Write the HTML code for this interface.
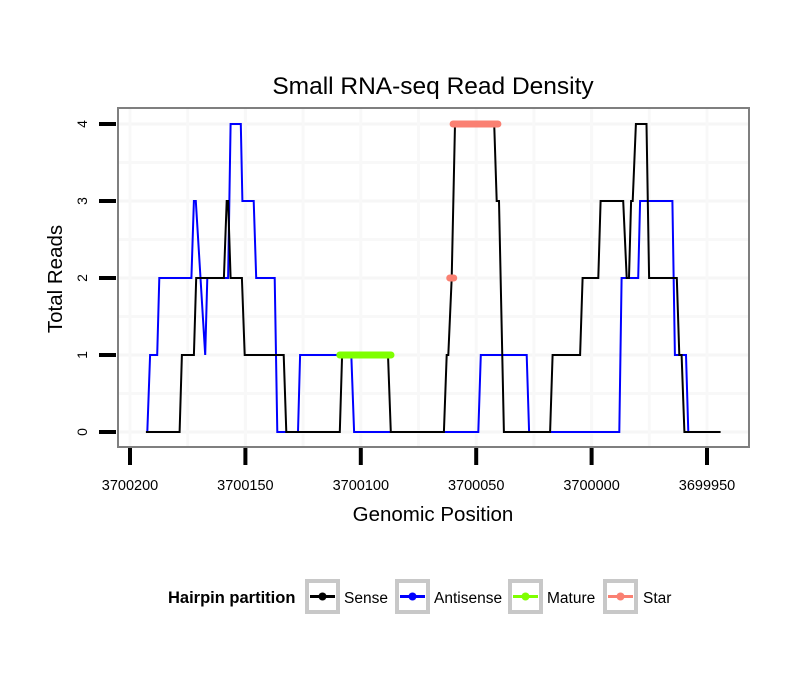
<!DOCTYPE html>
<html><head><meta charset="utf-8"><style>
body{margin:0;background:#fff;font-family:"Liberation Sans",sans-serif}
svg{display:block}
</style></head><body>
<svg id="chart" width="810" height="690" xmlns="http://www.w3.org/2000/svg"></svg>
<script>
const xTicks=[3700200,3700150,3700100,3700050,3700000,3699950];
const xTickLabels=["3700200","3700150","3700100","3700050","3700000","3699950"];
const yTicks=[0,1,2,3,4];
const yTickLabels=["0","1","2","3","4"];
const antisensePos=[3700192.5,3700191.3,3700188.2,3700187.3,3700173.4,3700172.3,3700171.5,3700167.4,3700166.5,3700157.5,3700156.4,3700152.0,3700151.3,3700146.4,3700145.3,3700137.3,3700136.2,3700127.2,3700126.3,3700104.1,3700102.9,3700049.1,3700048.0,3700028.1,3700027.1,3699988.0,3699987.0,3699979.8,3699979.0,3699965.0,3699963.9,3699959.1,3699958.1];
const antisenseVal=[0,1,1,2,2,3,3,1,2,2,4,4,3,3,2,2,0,0,1,1,0,0,1,1,0,0,2,2,3,3,1,1,0];
const sensePos=[3700193.1,3700178.5,3700177.5,3700172.3,3700171.3,3700159.3,3700158.1,3700157.5,3700156.4,3700151.5,3700150.3,3700133.4,3700132.3,3700109.1,3700108.1,3700088.2,3700087.0,3700064.0,3700062.8,3700062.1,3700060.6,3700059.2,3700042.2,3700041.1,3700040.1,3700038.0,3700018.0,3700016.9,3700005.0,3700003.9,3699997.1,3699996.1,3699986.3,3699984.8,3699983.8,3699982.9,3699982.2,3699980.8,3699976.2,3699975.1,3699963.1,3699962.0,3699961.0,3699959.8,3699944.1];
const senseVal=[0,0,1,1,2,2,3,3,2,2,1,1,0,0,1,1,0,0,1,1,2,4,4,3,3,0,0,1,1,2,2,3,3,2,2,3,3,4,4,2,2,1,1,0,0];
const maturePos=[3700109.1,3700086.9];
const matureVal=[1,1];
const starPos=[3700060.0,3700040.6];
const starVal=[4,4];
const starPointPos=[3700060.6];
const starPointVal=[2];

const NS="http://www.w3.org/2000/svg";
const svg=document.getElementById('chart');
const L=118,R=749,T=108,B=447;
const xs=v=>130+(3700200-v)*2.308;
const ys=v=>432-v*77;
function mk(tag,attrs,parent){const e=document.createElementNS(NS,tag);for(const k in attrs)e.setAttribute(k,attrs[k]);(parent||svg).appendChild(e);return e;}
function txt(s,attrs){const e=mk('text',attrs);e.textContent=s;return e;}

const plot=mk('rect',{x:L,y:T,width:R-L,height:B-T,fill:'#fff'});


for(let i=0;i<yTicks.length;i++){
  const g=mk('line',{x1:L,x2:R,y1:ys(yTicks[i]),y2:ys(yTicks[i]),stroke:'#f6f6f6','stroke-width':3});
  
  
  if(i<yTicks.length-1){const m=mk('line',{x1:L,x2:R,y1:ys(yTicks[i]+0.5),y2:ys(yTicks[i]+0.5),stroke:'#f8f8f8','stroke-width':3});
  
  }
}
for(let i=0;i<xTicks.length;i++){
  const g=mk('line',{x1:xs(xTicks[i]),x2:xs(xTicks[i]),y1:T,y2:B,stroke:'#f8f8f8','stroke-width':3});
  
  
  if(i<xTicks.length-1){const m=mk('line',{x1:xs(xTicks[i]-25),x2:xs(xTicks[i]-25),y1:T,y2:B,stroke:'#f8f8f8','stroke-width':3});
  
  }
}
function series(pos,val,color,w,name,cap){
  const d=pos.map((p,i)=>(i?'L':'M')+xs(p).toFixed(1)+','+ys(val[i]).toFixed(1)).join('');
  const e=mk('path',{d:d,fill:'none',stroke:color,'stroke-width':w,'stroke-linejoin':'miter','stroke-linecap':cap||'butt'});
  
  
}
series(antisensePos,antisenseVal,'#0000ff',2,'antisense-line');
series(sensePos,senseVal,'#000000',2,'sense-line');
series(maturePos,matureVal,'#7fff00',7,'mature-line','round');
series(starPos,starVal,'#fa8072',7,'star-line','round');
for(let i=0;i<starPointPos.length;i++){
  const c=mk('line',{x1:xs(starPointPos[i])-2,x2:xs(starPointPos[i])+2,y1:ys(starPointVal[i]),y2:ys(starPointVal[i]),stroke:'#fa8072','stroke-width':7,'stroke-linecap':'round'});
  
  
}
const border=mk('rect',{x:L,y:T,width:R-L,height:B-T,fill:'none',stroke:'#7f7f7f','stroke-width':2});


for(let i=0;i<yTicks.length;i++){
  const t=mk('line',{x1:99,x2:116,y1:ys(yTicks[i]),y2:ys(yTicks[i]),stroke:'#000','stroke-width':4});
  
  
  const y=ys(yTicks[i]);
  const l=txt(yTickLabels[i],{x:87,y:y,'font-size':14,'text-anchor':'middle',transform:`rotate(-90 87 ${y})`,fill:'#000'});
  
  
}
for(let i=0;i<xTicks.length;i++){
  const x=xs(xTicks[i]);
  const t=mk('line',{x1:x,x2:x,y1:448,y2:465,stroke:'#000','stroke-width':4});
  
  
  const l=txt(xTickLabels[i],{x:x,y:490,'font-size':14.5,'text-anchor':'middle',fill:'#000'});
  
  
}
</script>
<svg style="position:absolute;left:0;top:0" width="810" height="690">
<text x="433" y="94" font-size="24.5" text-anchor="middle" font-family="Liberation Sans">Small RNA-seq Read Density</text>
<text x="433" y="521" font-size="20.5" text-anchor="middle" font-family="Liberation Sans">Genomic Position</text>
<text x="62" y="279" font-size="20.5" text-anchor="middle" font-family="Liberation Sans" transform="rotate(-90 62 279)">Total Reads</text>
<text x="168" y="603" font-size="16.5" font-weight="bold" font-family="Liberation Sans">Hairpin partition</text>
<g>
<rect x="307" y="581" width="31" height="31" fill="#fff" stroke="#c8c8c8" stroke-width="4"/>
<line x1="310" x2="335" y1="596.5" y2="596.5" stroke="#000" stroke-width="3"/><circle cx="322.5" cy="596.5" r="4" fill="#000"/>
<text x="344" y="603" font-size="15.5" font-family="Liberation Sans">Sense</text></g>
<g>
<rect x="397" y="581" width="31" height="31" fill="#fff" stroke="#c8c8c8" stroke-width="4"/>
<line x1="400" x2="425" y1="596.5" y2="596.5" stroke="#00f" stroke-width="3"/><circle cx="412.5" cy="596.5" r="4" fill="#00f"/>
<text x="434" y="603" font-size="15.5" font-family="Liberation Sans">Antisense</text></g>
<g>
<rect x="510" y="581" width="31" height="31" fill="#fff" stroke="#c8c8c8" stroke-width="4"/>
<line x1="513" x2="538" y1="596.5" y2="596.5" stroke="#7fff00" stroke-width="3"/><circle cx="525.5" cy="596.5" r="4" fill="#7fff00"/>
<text x="547" y="603" font-size="15.5" font-family="Liberation Sans">Mature</text></g>
<g>
<rect x="605" y="581" width="31" height="31" fill="#fff" stroke="#c8c8c8" stroke-width="4"/>
<line x1="608" x2="633" y1="596.5" y2="596.5" stroke="#fa8072" stroke-width="3"/><circle cx="620.5" cy="596.5" r="4" fill="#fa8072"/>
<text x="643" y="603" font-size="15.5" font-family="Liberation Sans">Star</text></g>
</svg>
</body></html>
